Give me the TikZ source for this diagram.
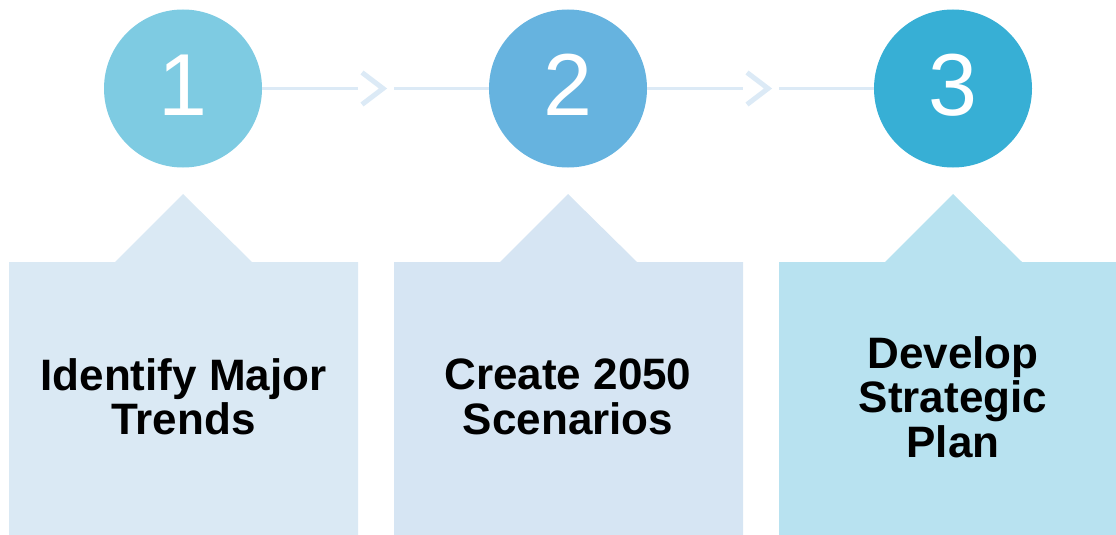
\documentclass[tikz,border=0pt]{standalone}
\usepackage{fontspec}
\setmainfont{Liberation Sans}
\begin{document}
\begin{tikzpicture}[x=1pt,y=-1pt,
  circ/.style={circle,minimum size=158pt,inner sep=0pt,text=white,
    font=\fontsize{88}{88}\selectfont},
  digit/.style={anchor=base,text=white,font=\fontsize{88}{88}\selectfont,inner sep=0pt},
  lbl/.style={align=center,font=\bfseries\fontsize{44}{44.5}\selectfont,text=black},
  link/.style={draw=linkc,line width=3.5pt},
  chev/.style={draw=linkc,line width=5pt,line join=miter},
]
\definecolor{c1}{HTML}{7ECBE2}
\definecolor{c2}{HTML}{66B3DF}
\definecolor{c3}{HTML}{37AFD5}
\definecolor{p1}{HTML}{DAE9F4}
\definecolor{p2}{HTML}{D6E5F3}
\definecolor{p3}{HTML}{B8E2F0}
\definecolor{linkc}{HTML}{DCEAF6}
\useasboundingbox (0,0) rectangle (1116,535);
% panels
\fill[p1] (9,535) -- (9,262) -- (115,262) -- (183,194) -- (252,262) -- (358,262) -- (358,535) -- cycle;
\fill[p2] (394,535) -- (394,262) -- (500,262) -- (568,194) -- (637,262) -- (743,262) -- (743,535) -- cycle;
\fill[p3] (779,535) -- (779,262) -- (885,262) -- (953,194) -- (1022,262) -- (1116,262) -- (1116,535) -- cycle;
% circles
\node[circ,fill=c1] (n1) at (183,88.5) {};
\node[circ,fill=c2] (n2) at (568,88.5) {};
\node[circ,fill=c3] (n3) at (953,88.5) {};
\node[digit] (d1) at (183,115) {1};
\node[digit] (d2) at (568,115) {2};
\node[digit] (d3) at (953,115) {3};
% connectors
\coordinate (a1) at (358,88.5);
\coordinate (b1) at (394,88.5);
\coordinate (a2) at (743,88.5);
\coordinate (b2) at (779,88.5);
\draw[link] (n1.east) -- (a1);
\draw[link] (b1) -- (n2.west);
\draw[chev] ([xshift=4pt,yshift=-16pt]a1) -- ([xshift=25pt]a1) -- ([xshift=4pt,yshift=16pt]a1);
\draw[link] (n2.east) -- (a2);
\draw[link] (b2) -- (n3.west);
\draw[chev] ([xshift=4pt,yshift=-16pt]a2) -- ([xshift=25pt]a2) -- ([xshift=4pt,yshift=16pt]a2);
% labels
\node[lbl] (t1) at (183.5,397) {Identify Major\\Trends};
\node[lbl] (t2) at (568,397) {Create 2050\\Scenarios};
\node[lbl] (t3) at (953,397) {Develop\\Strategic\\Plan};
\end{tikzpicture}
\end{document}
